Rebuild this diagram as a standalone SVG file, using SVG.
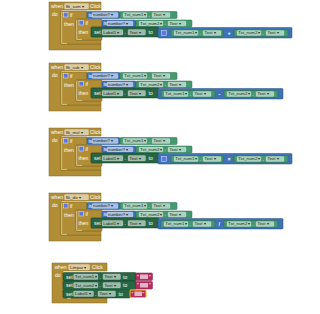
<svg xmlns="http://www.w3.org/2000/svg" width="320" height="314" viewBox="0 0 320 314">
<style>
.ev{fill:#B18E35;stroke:#7d6425;stroke-width:0.5}
.ma{fill:#3F71B5;stroke:#2b4f80;stroke-width:0.5}
.gt{fill:#439970;stroke:#2f6b4f;stroke-width:0.5}
.st{fill:#266643;stroke:#173f29;stroke-width:0.5}
.tx{fill:#B32D5E;stroke:#7d1f42;stroke-width:0.5}
.fd{fill:#ffffff;fill-opacity:0.55;stroke:#ffffff;stroke-opacity:0.6;stroke-width:0.3}
.hl{fill:none;stroke:#f2e6c4;stroke-width:0.6}
.gr{fill:#5a78e0;stroke:#e8ecff;stroke-width:0.5}
text{font-family:"Liberation Sans",Arial,sans-serif}
.lb{font-size:5px;fill:#ffffff}
.ft{font-size:4.3px;fill:#1e2a22}
.op{font-size:5.5px;fill:#ffffff;font-weight:bold}
</style>
<defs>
<g id="getter1">
<rect class="fd" x="3" y="1" width="24" height="5" rx="1"/>
<text class="ft" x="4.2" y="4.7">Txt_num1 ▾</text>
<text class="lb" x="28.5" y="5">.</text>
<rect class="fd" x="32" y="1" width="18" height="5" rx="1"/>
<text class="ft" x="33.5" y="4.7">Text ▾</text>
</g>
<g id="getter2">
<rect class="fd" x="3" y="1" width="24" height="5" rx="1"/>
<text class="ft" x="4.2" y="4.7">Txt_num2 ▾</text>
<text class="lb" x="28.5" y="5">.</text>
<rect class="fd" x="32" y="1" width="18" height="5" rx="1"/>
<text class="ft" x="33.5" y="4.7">Text ▾</text>
</g>
</defs>

<g id="connectors"></g>

<!-- Group 1: Bt_sum -->
<g id="event_Bt_sum">
<path class="ev" d="M49,2 H101 V10 H61 V44 H101 V50 H49 Z"/>
<text class="lb" x="51" y="8">when</text>
<rect class="fd" x="64.5" y="3.5" width="24" height="5.5" rx="1"/>
<text class="ft" x="66" y="7.6">Bt_sum ▾</text>
<text class="lb" x="90" y="8">Click</text>
<text class="lb" x="52" y="16">do</text>
</g>
<g id="if1_Bt_sum">
<path class="ev" d="M61,11 H87 V19 H76 V40 H101 V44 H61 Z"/>
<path class="hl" d="M61.6,11.6 V43.4 H67"/>
<rect class="gr" x="63.5" y="12.5" width="4.5" height="4.5"/>
<text class="lb" x="70" y="17">if</text>
<text class="lb" x="64" y="25.5">then</text>
</g>
<g id="if2_Bt_sum">
<path class="ev" d="M76,19 H102 V27 H91 V37 H102 V40 H76 Z"/>
<path class="hl" d="M76.6,19.6 V39.4 H82"/>
<rect class="gr" x="79" y="20.5" width="4.5" height="4.5"/>
<text class="lb" x="85.5" y="25">if</text>
<text class="lb" x="78.5" y="33.5">then</text>
</g>
<g id="isnum1_Bt_sum">
<rect class="ma" x="87" y="11.5" width="33" height="7" rx="1"/>
<text class="lb" x="88.5" y="16.8">is</text>
<rect class="fd" x="92" y="12.5" width="26" height="5" rx="1"/>
<text class="ft" x="93" y="16.2">number? ▾</text>
</g>
<g id="get1_Bt_sum" transform="translate(120,11.5)">
<rect class="gt" x="0" y="0" width="57" height="7" rx="1"/>
<use href="#getter1"/>
</g>
<g id="isnum2_Bt_sum">
<rect class="ma" x="102" y="20" width="34" height="7" rx="1"/>
<text class="lb" x="103.5" y="25.3">is</text>
<rect class="fd" x="107" y="21" width="26" height="5" rx="1"/>
<text class="ft" x="108" y="24.7">number? ▾</text>
</g>
<g id="get2_Bt_sum" transform="translate(136,20)">
<rect class="gt" x="0" y="0" width="56" height="7" rx="1"/>
<use href="#getter2"/>
</g>
<g id="set_Bt_sum">
<rect class="st" x="91" y="27" width="68" height="10" rx="1"/>
<text class="lb" x="94" y="33.8">set</text>
<rect class="fd" x="102" y="29.5" width="21" height="5.5" rx="1"/>
<text class="ft" x="103.3" y="33.5">Label1 ▾</text>
<text class="lb" x="124.5" y="34">.</text>
<rect class="fd" x="128" y="29.5" width="17.5" height="5.5" rx="1"/>
<text class="ft" x="129.5" y="33.5">Text ▾</text>
<text class="lb" x="148.5" y="34">to</text>
</g>
<g id="add_Bt_sum">
<rect class="ma" x="158" y="27.5" width="134" height="10.5" rx="1"/>
<rect class="gr" x="161.5" y="30.5" width="5" height="5"/>
<g transform="translate(171,29.5)"><rect class="gt" x="0" y="0" width="52" height="7" rx="1"/><use href="#getter1"/></g>
<text class="op" x="227.5" y="35">+</text>
<g transform="translate(234,29.5)"><rect class="gt" x="0" y="0" width="54" height="7" rx="1"/><use href="#getter2"/></g>
</g>

<!-- Group 2: Bt_sub -->
<g id="event_Bt_sub" transform="translate(0,61)">
<path class="ev" d="M49,2 H101 V10 H61 V44 H101 V50 H49 Z"/>
<text class="lb" x="51" y="8">when</text>
<rect class="fd" x="64.5" y="3.5" width="24" height="5.5" rx="1"/>
<text class="ft" x="66" y="7.6">Bt_sub ▾</text>
<text class="lb" x="90" y="8">Click</text>
<text class="lb" x="52" y="16">do</text>
</g>
<g id="if1_Bt_sub" transform="translate(0,61)">
<path class="ev" d="M61,11 H87 V19 H76 V40 H101 V44 H61 Z"/>
<path class="hl" d="M61.6,11.6 V43.4 H67"/>
<rect class="gr" x="63.5" y="12.5" width="4.5" height="4.5"/>
<text class="lb" x="70" y="17">if</text>
<text class="lb" x="64" y="25.5">then</text>
</g>
<g id="if2_Bt_sub" transform="translate(0,61)">
<path class="ev" d="M76,19 H102 V27 H91 V37 H102 V40 H76 Z"/>
<path class="hl" d="M76.6,19.6 V39.4 H82"/>
<rect class="gr" x="79" y="20.5" width="4.5" height="4.5"/>
<text class="lb" x="85.5" y="25">if</text>
<text class="lb" x="78.5" y="33.5">then</text>
</g>
<g id="isnum1_Bt_sub" transform="translate(0,61)">
<rect class="ma" x="87" y="11.5" width="33" height="7" rx="1"/>
<text class="lb" x="88.5" y="16.8">is</text>
<rect class="fd" x="92" y="12.5" width="26" height="5" rx="1"/>
<text class="ft" x="93" y="16.2">number? ▾</text>
</g>
<g id="get1_Bt_sub" transform="translate(120,72.5)">
<rect class="gt" x="0" y="0" width="57" height="7" rx="1"/>
<use href="#getter1"/>
</g>
<g id="isnum2_Bt_sub" transform="translate(0,61)">
<rect class="ma" x="102" y="20" width="34" height="7" rx="1"/>
<text class="lb" x="103.5" y="25.3">is</text>
<rect class="fd" x="107" y="21" width="26" height="5" rx="1"/>
<text class="ft" x="108" y="24.7">number? ▾</text>
</g>
<g id="get2_Bt_sub" transform="translate(136,81)">
<rect class="gt" x="0" y="0" width="56" height="7" rx="1"/>
<use href="#getter2"/>
</g>
<g id="set_Bt_sub" transform="translate(0,61)">
<rect class="st" x="91" y="27" width="68" height="10" rx="1"/>
<text class="lb" x="94" y="33.8">set</text>
<rect class="fd" x="102" y="29.5" width="21" height="5.5" rx="1"/>
<text class="ft" x="103.3" y="33.5">Label1 ▾</text>
<text class="lb" x="124.5" y="34">.</text>
<rect class="fd" x="128" y="29.5" width="17.5" height="5.5" rx="1"/>
<text class="ft" x="129.5" y="33.5">Text ▾</text>
<text class="lb" x="148.5" y="34">to</text>
</g>
<g id="sub_Bt_sub" transform="translate(0,61)">
<rect class="ma" x="158" y="27.5" width="125" height="10.5" rx="1"/>
<g transform="translate(161,29.5)"><rect class="gt" x="0" y="0" width="54" height="7" rx="1"/><use href="#getter1"/></g>
<text class="op" x="218.5" y="35">-</text>
<g transform="translate(224,29.5)"><rect class="gt" x="0" y="0" width="54" height="7" rx="1"/><use href="#getter2"/></g>
</g>

<!-- Group 3: Bt_mul -->
<g id="event_Bt_mul" transform="translate(0,126)">
<path class="ev" d="M49,2 H101 V10 H61 V44 H101 V50 H49 Z"/>
<text class="lb" x="51" y="8">when</text>
<rect class="fd" x="64.5" y="3.5" width="24" height="5.5" rx="1"/>
<text class="ft" x="66" y="7.6">Bt_mul ▾</text>
<text class="lb" x="90" y="8">Click</text>
<text class="lb" x="52" y="16">do</text>
</g>
<g id="if1_Bt_mul" transform="translate(0,126)">
<path class="ev" d="M61,11 H87 V19 H76 V40 H101 V44 H61 Z"/>
<path class="hl" d="M61.6,11.6 V43.4 H67"/>
<rect class="gr" x="63.5" y="12.5" width="4.5" height="4.5"/>
<text class="lb" x="70" y="17">if</text>
<text class="lb" x="64" y="25.5">then</text>
</g>
<g id="if2_Bt_mul" transform="translate(0,126)">
<path class="ev" d="M76,19 H102 V27 H91 V37 H102 V40 H76 Z"/>
<path class="hl" d="M76.6,19.6 V39.4 H82"/>
<rect class="gr" x="79" y="20.5" width="4.5" height="4.5"/>
<text class="lb" x="85.5" y="25">if</text>
<text class="lb" x="78.5" y="33.5">then</text>
</g>
<g id="isnum1_Bt_mul" transform="translate(0,126)">
<rect class="ma" x="87" y="11.5" width="33" height="7" rx="1"/>
<text class="lb" x="88.5" y="16.8">is</text>
<rect class="fd" x="92" y="12.5" width="26" height="5" rx="1"/>
<text class="ft" x="93" y="16.2">number? ▾</text>
</g>
<g id="get1_Bt_mul" transform="translate(120,137.5)">
<rect class="gt" x="0" y="0" width="57" height="7" rx="1"/>
<use href="#getter1"/>
</g>
<g id="isnum2_Bt_mul" transform="translate(0,126)">
<rect class="ma" x="102" y="20" width="34" height="7" rx="1"/>
<text class="lb" x="103.5" y="25.3">is</text>
<rect class="fd" x="107" y="21" width="26" height="5" rx="1"/>
<text class="ft" x="108" y="24.7">number? ▾</text>
</g>
<g id="get2_Bt_mul" transform="translate(136,146)">
<rect class="gt" x="0" y="0" width="56" height="7" rx="1"/>
<use href="#getter2"/>
</g>
<g id="set_Bt_mul" transform="translate(0,126)">
<rect class="st" x="91" y="27" width="68" height="10" rx="1"/>
<text class="lb" x="94" y="33.8">set</text>
<rect class="fd" x="102" y="29.5" width="21" height="5.5" rx="1"/>
<text class="ft" x="103.3" y="33.5">Label1 ▾</text>
<text class="lb" x="124.5" y="34">.</text>
<rect class="fd" x="128" y="29.5" width="17.5" height="5.5" rx="1"/>
<text class="ft" x="129.5" y="33.5">Text ▾</text>
<text class="lb" x="148.5" y="34">to</text>
</g>
<g id="mul_Bt_mul" transform="translate(0,126)">
<rect class="ma" x="158" y="27.5" width="134" height="10.5" rx="1"/>
<rect class="gr" x="161.5" y="30.5" width="5" height="5"/>
<g transform="translate(171,29.5)"><rect class="gt" x="0" y="0" width="52" height="7" rx="1"/><use href="#getter1"/></g>
<text class="op" x="227.5" y="35">×</text>
<g transform="translate(234,29.5)"><rect class="gt" x="0" y="0" width="54" height="7" rx="1"/><use href="#getter2"/></g>
</g>

<!-- Group 4: Bt_div -->
<g id="event_Bt_div" transform="translate(0,191)">
<path class="ev" d="M49,2 H101 V10 H61 V44 H101 V50 H49 Z"/>
<text class="lb" x="51" y="8">when</text>
<rect class="fd" x="64.5" y="3.5" width="24" height="5.5" rx="1"/>
<text class="ft" x="66" y="7.6">Bt_div ▾</text>
<text class="lb" x="90" y="8">Click</text>
<text class="lb" x="52" y="16">do</text>
</g>
<g id="if1_Bt_div" transform="translate(0,191)">
<path class="ev" d="M61,11 H87 V19 H76 V40 H101 V44 H61 Z"/>
<path class="hl" d="M61.6,11.6 V43.4 H67"/>
<rect class="gr" x="63.5" y="12.5" width="4.5" height="4.5"/>
<text class="lb" x="70" y="17">if</text>
<text class="lb" x="64" y="25.5">then</text>
</g>
<g id="if2_Bt_div" transform="translate(0,191)">
<path class="ev" d="M76,19 H102 V27 H91 V37 H102 V40 H76 Z"/>
<path class="hl" d="M76.6,19.6 V39.4 H82"/>
<rect class="gr" x="79" y="20.5" width="4.5" height="4.5"/>
<text class="lb" x="85.5" y="25">if</text>
<text class="lb" x="78.5" y="33.5">then</text>
</g>
<g id="isnum1_Bt_div" transform="translate(0,191)">
<rect class="ma" x="87" y="11.5" width="33" height="7" rx="1"/>
<text class="lb" x="88.5" y="16.8">is</text>
<rect class="fd" x="92" y="12.5" width="26" height="5" rx="1"/>
<text class="ft" x="93" y="16.2">number? ▾</text>
</g>
<g id="get1_Bt_div" transform="translate(120,202.5)">
<rect class="gt" x="0" y="0" width="57" height="7" rx="1"/>
<use href="#getter1"/>
</g>
<g id="isnum2_Bt_div" transform="translate(0,191)">
<rect class="ma" x="102" y="20" width="34" height="7" rx="1"/>
<text class="lb" x="103.5" y="25.3">is</text>
<rect class="fd" x="107" y="21" width="26" height="5" rx="1"/>
<text class="ft" x="108" y="24.7">number? ▾</text>
</g>
<g id="get2_Bt_div" transform="translate(136,211)">
<rect class="gt" x="0" y="0" width="56" height="7" rx="1"/>
<use href="#getter2"/>
</g>
<g id="set_Bt_div" transform="translate(0,191)">
<rect class="st" x="91" y="27" width="68" height="10" rx="1"/>
<text class="lb" x="94" y="33.8">set</text>
<rect class="fd" x="102" y="29.5" width="21" height="5.5" rx="1"/>
<text class="ft" x="103.3" y="33.5">Label1 ▾</text>
<text class="lb" x="124.5" y="34">.</text>
<rect class="fd" x="128" y="29.5" width="17.5" height="5.5" rx="1"/>
<text class="ft" x="129.5" y="33.5">Text ▾</text>
<text class="lb" x="148.5" y="34">to</text>
</g>
<g id="div_Bt_div" transform="translate(0,191)">
<rect class="ma" x="158" y="27.5" width="125" height="10.5" rx="1"/>
<g transform="translate(161,29.5)"><rect class="gt" x="0" y="0" width="54" height="7" rx="1"/><use href="#getter1"/></g>
<text class="op" x="218.5" y="35">/</text>
<g transform="translate(224,29.5)"><rect class="gt" x="0" y="0" width="54" height="7" rx="1"/><use href="#getter2"/></g>
</g>

<!-- Group 5: Limpar -->
<g id="event_Limpar">
<path class="ev" d="M52,263 H107 V271 H63 V298 H107 V303 H52 Z"/>
<text class="lb" x="54.5" y="269">when</text>
<rect class="fd" x="68.5" y="264.5" width="21" height="5.5" rx="1"/>
<text class="ft" x="70" y="268.6">Limpar ▾</text>
<text class="lb" x="92" y="269">Click</text>
<text class="lb" x="55" y="277">do</text>
</g>
<g id="set_Txt_num1">
<rect class="st" x="63" y="272.5" width="73" height="8.5" rx="1"/>
<text class="lb" x="66" y="278.5">set</text>
<rect class="fd" x="73.5" y="274" width="24.5" height="5.5" rx="1"/>
<text class="ft" x="75" y="278">Txt_num1 ▾</text>
<text class="lb" x="99.5" y="278.5">.</text>
<rect class="fd" x="103" y="274" width="17.5" height="5.5" rx="1"/>
<text class="ft" x="104.5" y="278">Text ▾</text>
<text class="lb" x="123" y="278.5">to</text>
</g>
<g id="text_empty1">
<rect class="tx" x="135.5" y="273" width="17" height="7.5" rx="1"/>
<text class="lb" x="137" y="278.5">"</text>
<rect x="140" y="274.5" width="8" height="4.5" fill="#e7b3c6"/>
<text class="lb" x="149" y="278.5">"</text>
</g>
<g id="set_Txt_num2">
<rect class="st" x="63" y="281" width="73" height="8.5" rx="1"/>
<text class="lb" x="66" y="287">set</text>
<rect class="fd" x="73.5" y="282.5" width="24.5" height="5.5" rx="1"/>
<text class="ft" x="75" y="286.5">Txt_num2 ▾</text>
<text class="lb" x="99.5" y="287">.</text>
<rect class="fd" x="103" y="282.5" width="17.5" height="5.5" rx="1"/>
<text class="ft" x="104.5" y="286.5">Text ▾</text>
<text class="lb" x="123" y="287">to</text>
</g>
<g id="text_empty2">
<rect class="tx" x="135.5" y="281.5" width="17" height="7.5" rx="1"/>
<text class="lb" x="137" y="287">"</text>
<rect x="140" y="283" width="8" height="4.5" fill="#e7b3c6"/>
<text class="lb" x="149" y="287">"</text>
</g>
<g id="set_Label1">
<rect class="st" x="63" y="289.5" width="67" height="8.5" rx="1"/>
<path class="hl" d="M67,298.3 H71"/>
<text class="lb" x="66" y="295.5">set</text>
<rect class="fd" x="73.5" y="291" width="20" height="5.5" rx="1"/>
<text class="ft" x="75" y="295">Label1 ▾</text>
<text class="lb" x="95" y="295.5">.</text>
<rect class="fd" x="98" y="291" width="17.5" height="5.5" rx="1"/>
<text class="ft" x="99.5" y="295">Text ▾</text>
<text class="lb" x="118.5" y="295.5">to</text>
</g>
<g id="text_empty3">
<rect x="130" y="290" width="16" height="7.5" rx="1" fill="#B32D5E" stroke="#f5c400" stroke-width="1"/>
<text class="lb" x="131.5" y="295.5">"</text>
<rect x="134.5" y="291.5" width="7.5" height="4.5" fill="#e7b3c6"/>
<text class="lb" x="142.5" y="295.5">"</text>
</g>
</svg>
